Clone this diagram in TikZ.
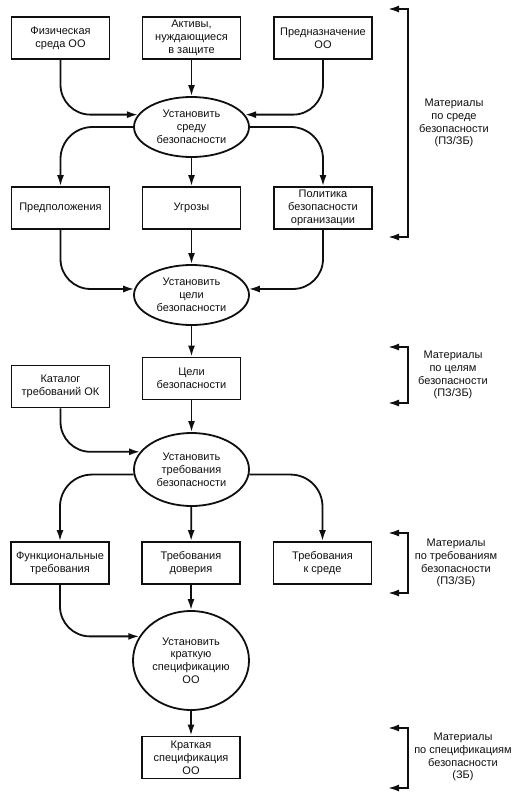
\documentclass[tikz,border=0pt]{standalone}
\usepackage{fontspec}
\setmainfont{Liberation Sans}
\usepackage{xcolor}
\usetikzlibrary{arrows.meta,shapes.geometric}
\definecolor{InkCol}{RGB}{15,15,15}
\newcommand{\sbfont}{\fontsize{11}{12.8}\selectfont}
\tikzset{
  sbbox/.style={draw=InkCol, line width=1.8pt, minimum width=98pt, minimum height=42pt, inner sep=1pt, align=center, font=\sbfont, text=InkCol},
  sbell/.style={ellipse, draw=InkCol, line width=1.8pt, minimum width=115pt, minimum height=60pt, inner sep=0pt, align=center, font=\sbfont, text=InkCol},
  sbarr/.style={-{Latex[length=11pt,width=7pt]}, line width=1.8pt, draw=InkCol},
  sbbrk/.style={{Latex[length=11pt,width=7pt]}-{Latex[length=11pt,width=7pt]}, line width=1.8pt, draw=InkCol},
  sblab/.style={align=center, font=\sbfont, text=InkCol, inner sep=0pt}
}
\begin{document}
\begin{tikzpicture}[x=1pt,y=-1pt]
  \useasboundingbox (0,0) rectangle (522,804);
  \node[sbbox] (fiz) at (60.5,38) {Физическая\\среда ОО};
  \node[sbbox] (akt) at (191.5,38) {Активы,\\нуждающиеся\\в защите};
  \node[sbbox] (nazn) at (323,38) {Предназначение\\ОО};
  \node[sbell] (ust1) at (191.5,127) {Установить\\среду\\безопасности};
  \node[sbbox] (pred) at (60.5,208) {Предположения};
  \node[sbbox] (ugr) at (191.5,208) {Угрозы};
  \node[sbbox] (pol) at (323,208) {Политика\\безопасности\\организации};
  \node[sbell] (ust2) at (191.5,295) {Установить\\цели\\безопасности};
  \node[sbbox] (celi) at (191.5,378.5) {Цели\\безопасности};
  \node[sbbox] (kat) at (60.5,386.5) {Каталог\\требований ОК};
  \node[sbell, minimum height=73pt] (ust3) at (191.5,469.5) {Установить\\требования\\безопасности};
  \node[sbbox] (fun) at (60,563) {Функциональные\\требования};
  \node[sbbox] (dov) at (191,563) {Требования\\доверия};
  \node[sbbox] (sred) at (322.5,563) {Требования\\к среде};
  \node[sbell, minimum width=116pt, minimum height=99pt] (ust4) at (191,660.5) {Установить\\краткую\\спецификацию\\ОО};
  \node[sbbox] (krat) at (191,757.5) {Краткая\\спецификация\\ОО};

  \draw[sbarr, rounded corners=30pt] (fiz.south) |- (ust1.167);
  \draw[sbarr] (akt) -- (ust1);
  \draw[sbarr, rounded corners=30pt] (nazn.south) |- (ust1.13);
  \draw[sbarr, rounded corners=32pt] (ust1.west) -| (pred.north);
  \draw[sbarr] (ust1) -- (ugr);
  \draw[sbarr, rounded corners=32pt] (ust1.east) -| (pol.north);
  \draw[sbarr, rounded corners=30pt] (pred.south) |- (ust2.174);
  \draw[sbarr] (ugr) -- (ust2);
  \draw[sbarr, rounded corners=30pt] (pol.south) |- (ust2.6);
  \draw[sbarr] (ust2) -- (celi);
  \draw[sbarr] (celi) -- (ust3);
  \draw[sbarr, rounded corners=30pt] (kat.south) |- (ust3.161);
  \draw[sbarr, rounded corners=32pt] (ust3.185.5) -| (fun.north);
  \draw[sbarr] (ust3) -- (dov);
  \draw[sbarr, rounded corners=32pt] (ust3.-5.5) -| (sred.north);
  \draw[sbarr, rounded corners=30pt] (fun.south) |- (ust4.155);
  \draw[sbarr] (dov) -- (ust4);
  \draw[sbarr] (ust4) -- (krat);

  \coordinate (m1a) at (388,9);
  \coordinate (m1b) at (388,237);
  \coordinate (m2a) at (388,347);
  \coordinate (m2b) at (388,403);
  \coordinate (m3a) at (388,533);
  \coordinate (m3b) at (388,593);
  \coordinate (m4a) at (388,728);
  \coordinate (m4b) at (388,788);
  \draw[sbbrk] (m1a) -- ++(20,0) |- (m1b);
  \draw[sbbrk] (m2a) -- ++(20,0) |- (m2b);
  \draw[sbbrk] (m3a) -- ++(20,0) |- (m3b);
  \draw[sbbrk] (m4a) -- ++(20,0) |- (m4b);
  \node[sblab] (mat1) at (454,123) {Материалы\\по среде\\безопасности\\(ПЗ/ЗБ)};
  \node[sblab] (mat2) at (453,375) {Материалы\\по целям\\безопасности\\(ПЗ/ЗБ)};
  \node[sblab] (mat3) at (456,563) {Материалы\\по требованиям\\безопасности\\(ПЗ/ЗБ)};
  \node[sblab] (mat4) at (463,757) {Материалы\\по спецификациям\\безопасности\\(ЗБ)};
\end{tikzpicture}
\end{document}
